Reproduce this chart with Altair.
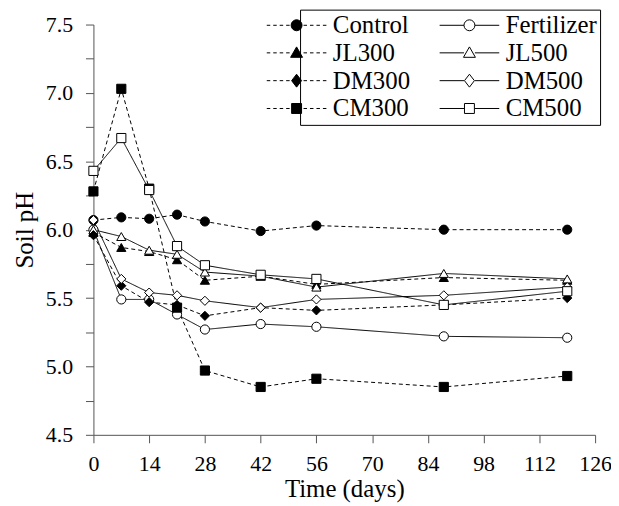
import altair as alt
import pandas as pd

# ---- data ----
days = [0, 7, 14, 21, 28, 42, 56, 88, 119]
series_names = ["Control", "Fertilizer", "JL300", "JL500", "DM300", "DM500", "CM300", "CM500"]
control = [6.07, 6.09, 6.08, 6.11, 6.06, 5.99, 6.03, 6.00, 6.00]
fertilizer = [6.00, 5.49, 5.49, 5.38, 5.27, 5.31, 5.29, 5.22, 5.21]
jl300 = [5.98, 5.87, 5.84, 5.78, 5.63, 5.66, 5.60, 5.65, 5.63]
jl500 = [6.00, 5.95, 5.85, 5.82, 5.69, 5.66, 5.58, 5.68, 5.64]
dm300 = [5.96, 5.59, 5.47, 5.45, 5.37, 5.43, 5.41, 5.45, 5.50]
dm500 = [6.07, 5.64, 5.54, 5.52, 5.48, 5.43, 5.49, 5.52, 5.58]
cm300 = [6.28, 7.03, 6.30, 5.43, 4.97, 4.85, 4.91, 4.85, 4.93]
cm500 = [6.43, 6.67, 6.29, 5.88, 5.74, 5.67, 5.64, 5.45, 5.55]
all_values = [control, fertilizer, jl300, jl500, dm300, dm500, cm300, cm500]

x_ticks = [0, 14, 28, 42, 56, 70, 84, 98, 112, 126]
y_ticks = [4.5, 4.75, 5.0, 5.25, 5.5, 5.75, 6.0, 6.25, 6.5, 6.75, 7.0, 7.25, 7.5]

rows = []
for name, vals in zip(series_names, all_values):
    for d, v in zip(days, vals):
        rows.append({"series": name, "day": d, "ph": v})
df = pd.DataFrame(rows)

# ---- styles ----
FONT = "Liberation Serif"
fills = ["black", "white", "black", "white", "black", "white", "black", "white"]
shapes = ["circle", "circle", "triangle-up", "triangle-up", "diamond", "diamond", "square", "square"]
dashes = [[4, 3], [1, 0], [4, 3], [1, 0], [4, 3], [1, 0], [4, 3], [1, 0]]
dashed_flags = [True, False, True, False, True, False, True, False]

# legend symbols: line + marker drawn as custom paths
SYM = 22.0           # nominal legend symbol size in px (sqrt of symbolSize)
S = SYM / 2          # px per path unit
RIGHT = SYM / 2
LEFT = RIGHT - 60
CX = (LEFT + RIGHT) / 2
MR = 5.5


def u(px):
    return f"{px / S:.3f}"


def line_path(dashed):
    if not dashed:
        return f"M{u(LEFT)},0H{u(CX - MR)}M{u(CX + MR)},0H{u(RIGHT)}"
    parts = []
    a = LEFT
    while a + 3.5 <= CX - 6:
        parts.append(f"M{u(a)},0H{u(a + 3.5)}")
        a += 6.5
    a = RIGHT
    while a - 3.5 >= CX + 6:
        parts.append(f"M{u(a - 3.5)},0H{u(a)}")
        a -= 6.5
    return "".join(parts)


def marker_path(kind):
    if kind == "circle":
        r = MR
        return (f"M{u(CX + r)},0A{u(r)},{u(r)} 0 1,1 {u(CX - r)},0"
                f"A{u(r)},{u(r)} 0 1,1 {u(CX + r)},0Z")
    if kind == "triangle-up":
        return f"M{u(CX)},{u(-6)}L{u(CX + 6)},{u(4.5)}L{u(CX - 6)},{u(4.5)}Z"
    if kind == "diamond":
        return f"M{u(CX)},{u(-6.5)}L{u(CX + 5)},0L{u(CX)},{u(6.5)}L{u(CX - 5)},0Z"
    return f"M{u(CX - 5)},{u(-5)}H{u(CX + 5)}V{u(5)}H{u(CX - 5)}Z"


legend_paths = {n: line_path(d) + marker_path(s) for n, d, s in zip(series_names, dashed_flags, shapes)}
fill_of = dict(zip(series_names, fills))

# legend lays entries out column by column: order so rows read Control|Fertilizer ...
legend_order = series_names[0::2] + series_names[1::2]
legend_df = pd.DataFrame({"entry": legend_order})

AX = "#555555"
x_enc = alt.X("day:Q", scale=alt.Scale(domain=[0, 126], nice=False, zero=False),
              axis=alt.Axis(values=x_ticks, title="Time (days)", grid=False, tickSize=8,
                            domainColor=AX, tickColor=AX, labelColor="black",
                            labelFont=FONT, labelFontSize=22, labelPadding=11,
                            titleFont=FONT, titleFontSize=25, titleFontWeight="normal",
                            titleColor="black", titlePadding=2, labelFlush=False))
y_enc = alt.Y("ph:Q", scale=alt.Scale(domain=[4.5, 7.5], nice=False, zero=False),
              axis=alt.Axis(values=y_ticks, title="Soil pH", grid=False, tickSize=8,
                            labelExpr="datum.value % 0.5 == 0 ? format(datum.value, '.1f') : ''",
                            domainColor=AX, tickColor=AX, labelColor="black",
                            labelFont=FONT, labelFontSize=22, labelPadding=13,
                            titleFont=FONT, titleFontSize=25, titleFontWeight="normal",
                            titleColor="black", titlePadding=8, labelFlush=False))

lines = alt.Chart(df).mark_line(color="black", strokeWidth=1).encode(
    x=x_enc, y=y_enc,
    detail="series:N",
    strokeDash=alt.StrokeDash("series:N", scale=alt.Scale(domain=series_names, range=dashes), legend=None),
)

point_layers = []
for name, shp, fl in zip(series_names, shapes, fills):
    point_layers.append(
        alt.Chart(df).transform_filter(alt.datum.series == name).mark_point(
            shape=shp, filled=True, fill=fl, stroke="black", strokeWidth=1, size=85, opacity=1
        ).encode(x=x_enc, y=y_enc)
    )

leg = alt.Legend(orient="none", legendX=208, legendY=-15, columns=2, columnPadding=27,
                 rowPadding=2, symbolSize=SYM * SYM, symbolStrokeWidth=1,
                 labelFont=FONT, labelFontSize=25, labelColor="black", labelOffset=5,
                 labelLimit=300, strokeColor="black", padding=3, title=None)

legend_layer = alt.Chart(legend_df).mark_point(filled=True, clip=True, opacity=1, strokeWidth=1).encode(
    x=alt.value(-500), y=alt.value(-500),
    shape=alt.Shape("entry:N", scale=alt.Scale(domain=legend_order,
                                               range=[legend_paths[n] for n in legend_order]), legend=leg),
    fill=alt.Fill("entry:N", scale=alt.Scale(domain=legend_order,
                                             range=[fill_of[n] for n in legend_order]), legend=leg),
    stroke=alt.Stroke("entry:N", scale=alt.Scale(domain=legend_order,
                                                 range=["black"] * len(legend_order)), legend=leg),
)

chart = alt.layer(lines, *point_layers, legend_layer).properties(
    width=505, height=413,
    autosize=alt.AutoSizeParams(type="none"),
    padding={"left": 86, "top": 15, "right": 16, "bottom": 70},
).configure_view(stroke=None)

chart.save("out.html", embed_options={"renderer": "svg", "actions": False})
